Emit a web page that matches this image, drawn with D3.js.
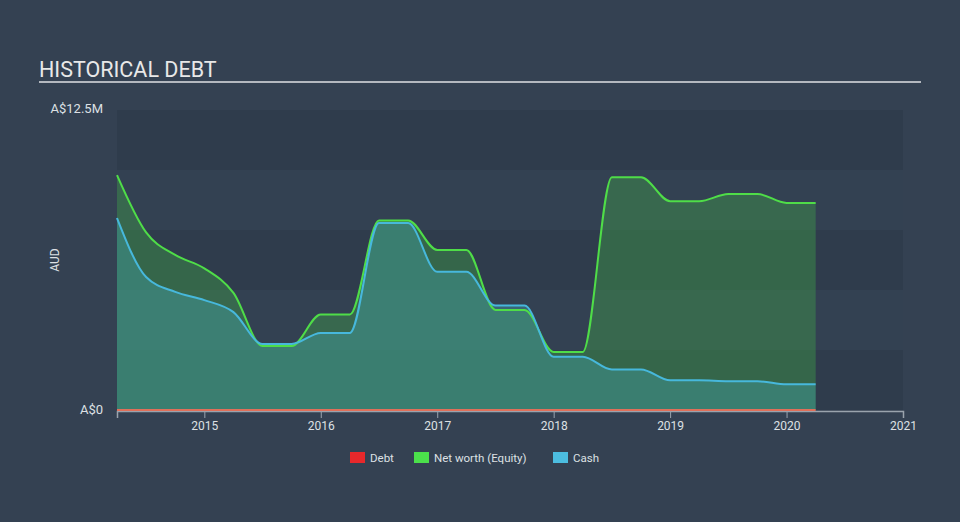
<!DOCTYPE html>
<html><head><meta charset="utf-8">
<script src="https://cdn.jsdelivr.net/npm/d3@7"></script>
<style>
html,body{margin:0;padding:0;background:#344152;}
svg{display:block;font-family:Roboto,"Noto Sans",sans-serif;}
</style></head>
<body>
<svg id="c" width="960" height="522"></svg>
<script>
// Quarterly dates (decimal years)
const dates = [2014.25,2014.5,2014.75,2015,2015.25,2015.5,2015.75,2016,2016.25,2016.5,2016.75,2017,2017.25,2017.5,2017.75,2018,2018.25,2018.5,2018.75,2019,2019.25,2019.5,2019.75,2020,2020.25];
const debt = [0,0,0,0,0,0,0,0,0,0,0,0,0,0,0,0,0,0,0,0,0,0,0,0,0];
const netWorth = [9.79,7.4,6.46,5.9,4.88,2.67,2.67,3.98,3.98,7.9,7.9,6.67,6.67,4.17,4.17,2.42,2.42,9.7,9.7,8.7,8.7,9.0,9.0,8.63,8.63];
const cash = [8.0,5.54,4.92,4.58,4.08,2.75,2.75,3.21,3.21,7.79,7.79,5.76,5.76,4.35,4.35,2.22,2.22,1.69,1.69,1.24,1.24,1.2,1.2,1.07,1.07];
const xTicks = [2015,2016,2017,2018,2019,2020,2021];
const yTickLabels = ["A$0","A$12.5M"];
const legendItems = ["Debt","Net worth (Equity)","Cash"];

const svg = d3.select("#c");
const x = d3.scaleLinear().domain([2014.25,2021]).range([117,903]);
const y = d3.scaleLinear().domain([0,12.5]).range([410,110]);

// title
svg.append("text").attr("x",39).attr("y",77).attr("fill","#e8e8e8").attr("font-size",21.5).text("HISTORICAL DEBT");
svg.append("rect").attr("x",39).attr("y",81).attr("width",882).attr("height",2).attr("fill","#b4b8bf");

// bands
const bandVals = d3.range(0,12.5,2.5);
svg.selectAll("rect.band").data(bandVals).enter().append("rect")
  .attr("x",x(2014.25)).attr("width",x(2021)-x(2014.25))
  .attr("y",d=>y(d+2.5)).attr("height",d=>y(d)-y(d+2.5))
  .attr("fill",(d,i)=> i%2===0 ? "#2f3c4c" : "#334152");

const data = dates.map((d,i)=>({d, debt:debt[i], nw:netWorth[i], cash:cash[i]}));
const area = key => d3.area().x(d=>x(d.d)).y0(y(0)).y1(d=>y(d[key])).curve(d3.curveMonotoneX);
const line = key => d3.line().x(d=>x(d.d)).y(d=>y(d[key])).curve(d3.curveMonotoneX);

svg.append("path").datum(data).attr("d",area("nw")).attr("fill","#3f9a4a").attr("fill-opacity",0.45);
svg.append("path").datum(data).attr("d",area("cash")).attr("fill","#45b0c0").attr("fill-opacity",0.33);
svg.append("path").datum(data).attr("d",line("nw")).attr("fill","none").attr("stroke","#4fdd48").attr("stroke-width",2);
svg.append("path").datum(data).attr("d",line("cash")).attr("fill","none").attr("stroke","#47b8dc").attr("stroke-width",2);

// x axis
const xAxis = svg.append("g").attr("transform",`translate(0,${y(0)+1})`)
  .call(d3.axisBottom(x).tickValues(xTicks).tickFormat(d3.format("d")).tickSize(7).tickPadding(3));
xAxis.select(".domain").attr("stroke","#9aa3ad").attr("stroke-width",1.5);
xAxis.selectAll(".tick line").attr("stroke","#9aa3ad");
xAxis.selectAll(".tick text").attr("fill","#dde0e4").attr("font-size",12).attr("font-family","Roboto,sans-serif");
svg.append("path").datum(data).attr("d",line("debt")).attr("fill","none").attr("stroke","#e0705a").attr("stroke-width",2);

// y labels
svg.append("text").attr("x",103).attr("y",y(12.5)+3).attr("text-anchor","end").attr("fill","#dde0e4").attr("font-size",13).text(yTickLabels[1]);
svg.append("text").attr("x",103).attr("y",y(0)+4).attr("text-anchor","end").attr("fill","#dde0e4").attr("font-size",13).text(yTickLabels[0]);
svg.append("text").attr("transform","translate(59,260) rotate(-90)").attr("text-anchor","middle").attr("fill","#dde0e4").attr("font-size",12).text("AUD");

// legend
const legColors = ["#e8282b","#4be04b","#4cbde0"];
const legX = [350,414,553];
legendItems.forEach((t,i)=>{
  svg.append("rect").attr("x",legX[i]).attr("y",452).attr("width",15).attr("height",11).attr("fill",legColors[i]);
  svg.append("text").attr("x",legX[i]+20).attr("y",462).attr("fill","#dde0e4").attr("font-size",11.5).text(t);
});
</script>
</body></html>
